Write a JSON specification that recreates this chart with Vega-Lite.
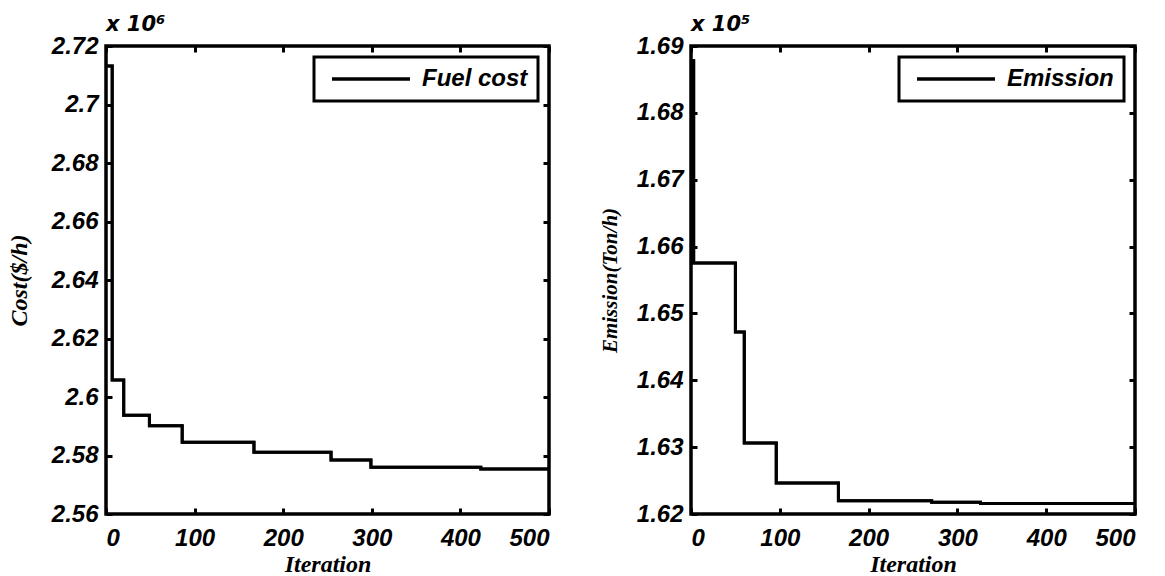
{
  "$schema": "https://vega.github.io/schema/vega-lite/v6.json",
  "background": "white",
  "padding": {"left": 5, "top": 12, "right": 5, "bottom": 0},
  "spacing": 142,
  "bounds": "flush",
  "datasets": {
    "cost": [
      {"Iteration": 0, "Cost": 2713200, "Series": "Fuel cost"},
      {"Iteration": 7, "Cost": 2605800, "Series": "Fuel cost"},
      {"Iteration": 20, "Cost": 2593800, "Series": "Fuel cost"},
      {"Iteration": 49, "Cost": 2590200, "Series": "Fuel cost"},
      {"Iteration": 86, "Cost": 2584500, "Series": "Fuel cost"},
      {"Iteration": 167, "Cost": 2581100, "Series": "Fuel cost"},
      {"Iteration": 254, "Cost": 2578500, "Series": "Fuel cost"},
      {"Iteration": 299, "Cost": 2576000, "Series": "Fuel cost"},
      {"Iteration": 423, "Cost": 2575400, "Series": "Fuel cost"},
      {"Iteration": 500, "Cost": 2575400, "Series": "Fuel cost"}
    ],
    "emission": [
      {"Iteration": 0, "Emission": 168780, "Series": "Emission"},
      {"Iteration": 3, "Emission": 165754, "Series": "Emission"},
      {"Iteration": 50, "Emission": 164722, "Series": "Emission"},
      {"Iteration": 60, "Emission": 163062, "Series": "Emission"},
      {"Iteration": 96, "Emission": 162464, "Series": "Emission"},
      {"Iteration": 166, "Emission": 162199, "Series": "Emission"},
      {"Iteration": 271, "Emission": 162175, "Series": "Emission"},
      {"Iteration": 326, "Emission": 162158, "Series": "Emission"},
      {"Iteration": 500, "Emission": 162158, "Series": "Emission"}
    ]
  },
  "config": {
    "view": {"stroke": "black", "strokeWidth": 3.5},
    "axis": {
      "domain": false,
      "grid": false,
      "tickColor": "black",
      "tickWidth": 3,
      "tickSize": -6,
      "labelFont": "Liberation Sans",
      "labelFontWeight": "bold",
      "labelFontStyle": "italic",
      "labelFontSize": 24,
      "labelColor": "black",
      "titleFont": "Liberation Serif",
      "titleFontStyle": "italic",
      "titleFontWeight": "bold",
      "titleFontSize": 24,
      "titleColor": "black"
    },
    "legend": {
      "orient": "top-right",
      "offset": 11,
      "strokeColor": "black",
      "strokeWidth": 3,
      "fillColor": "white",
      "padding": 10,
      "symbolType": "M-4,0H4",
      "symbolSize": 380,
      "symbolOffset": 35,
      "symbolStrokeWidth": 3.5,
      "symbolStrokeColor": "black",
      "labelFont": "Liberation Sans",
      "labelFontSize": 24,
      "labelFontStyle": "italic",
      "labelFontWeight": "bold",
      "labelColor": "black",
      "labelOffset": 39
    },
    "title": {
      "anchor": "start",
      "frame": "group",
      "offset": -1,
      "font": "DejaVu Sans",
      "fontSize": 21,
      "fontStyle": "italic",
      "fontWeight": "bold",
      "color": "black"
    }
  },
  "resolve": {
    "scale": {"x": "independent", "y": "independent", "color": "independent"},
    "legend": {"color": "independent"}
  },
  "hconcat": [
    {
      "width": 443,
      "height": 468,
      "title": {"text": "x 10⁶"},
      "data": {"name": "cost"},
      "resolve": {"axis": {"x": "independent", "y": "independent"}},
      "layer": [
        {
          "mark": {"type": "line", "interpolate": "step-after", "strokeWidth": 3, "clip": true},
          "encoding": {
            "x": {"field": "Iteration", "type": "quantitative",
              "scale": {"domain": [0, 500], "nice": false},
              "axis": {"values": [0, 100, 200, 300, 400, 500], "title": "Iteration", "labelPadding": 18, "titlePadding": 2}},
            "y": {"field": "Cost", "type": "quantitative",
              "scale": {"domain": [2560000, 2720000], "nice": false, "zero": false},
              "axis": {"values": [2560000, 2580000, 2600000, 2620000, 2640000, 2660000, 2680000, 2700000, 2720000],
                "labelExpr": "format(datum.value/1e6, '.2~f')", "title": "Cost($/h)", "labelPadding": 14, "titlePadding": 20}},
            "color": {"field": "Series", "type": "nominal", "scale": {"range": ["black"]}, "legend": {"title": null}}
          }
        },
        {
          "mark": {"type": "line", "interpolate": "step-after", "strokeWidth": 3, "color": "black", "clip": true},
          "encoding": {
            "x": {"field": "Iteration", "type": "quantitative",
              "axis": {"orient": "top", "values": [0, 100, 200, 300, 400, 500], "labels": false, "title": null}},
            "y": {"field": "Cost", "type": "quantitative",
              "axis": {"orient": "right", "values": [2560000, 2580000, 2600000, 2620000, 2640000, 2660000, 2680000, 2700000, 2720000], "labels": false, "title": null}}
          }
        }
      ]
    },
    {
      "width": 444,
      "height": 468,
      "title": {"text": "x 10⁵"},
      "data": {"name": "emission"},
      "resolve": {"axis": {"x": "independent", "y": "independent"}},
      "layer": [
        {
          "mark": {"type": "line", "interpolate": "step-after", "strokeWidth": 3, "clip": true},
          "encoding": {
            "x": {"field": "Iteration", "type": "quantitative",
              "scale": {"domain": [0, 500], "nice": false},
              "axis": {"values": [0, 100, 200, 300, 400, 500], "title": "Iteration", "labelPadding": 18, "titlePadding": 2}},
            "y": {"field": "Emission", "type": "quantitative",
              "scale": {"domain": [162000, 169000], "nice": false, "zero": false},
              "axis": {"values": [162000, 163000, 164000, 165000, 166000, 167000, 168000, 169000],
                "labelExpr": "format(datum.value/1e5, '.2~f')", "title": "Emission(Ton/h)", "titleFontSize": 21, "labelPadding": 14, "titlePadding": 16}},
            "color": {"field": "Series", "type": "nominal", "scale": {"range": ["black"]}, "legend": {"title": null}}
          }
        },
        {
          "mark": {"type": "line", "interpolate": "step-after", "strokeWidth": 3, "color": "black", "clip": true},
          "encoding": {
            "x": {"field": "Iteration", "type": "quantitative",
              "axis": {"orient": "top", "values": [0, 100, 200, 300, 400, 500], "labels": false, "title": null}},
            "y": {"field": "Emission", "type": "quantitative",
              "axis": {"orient": "right", "values": [162000, 163000, 164000, 165000, 166000, 167000, 168000, 169000], "labels": false, "title": null}}
          }
        }
      ]
    }
  ]
}
